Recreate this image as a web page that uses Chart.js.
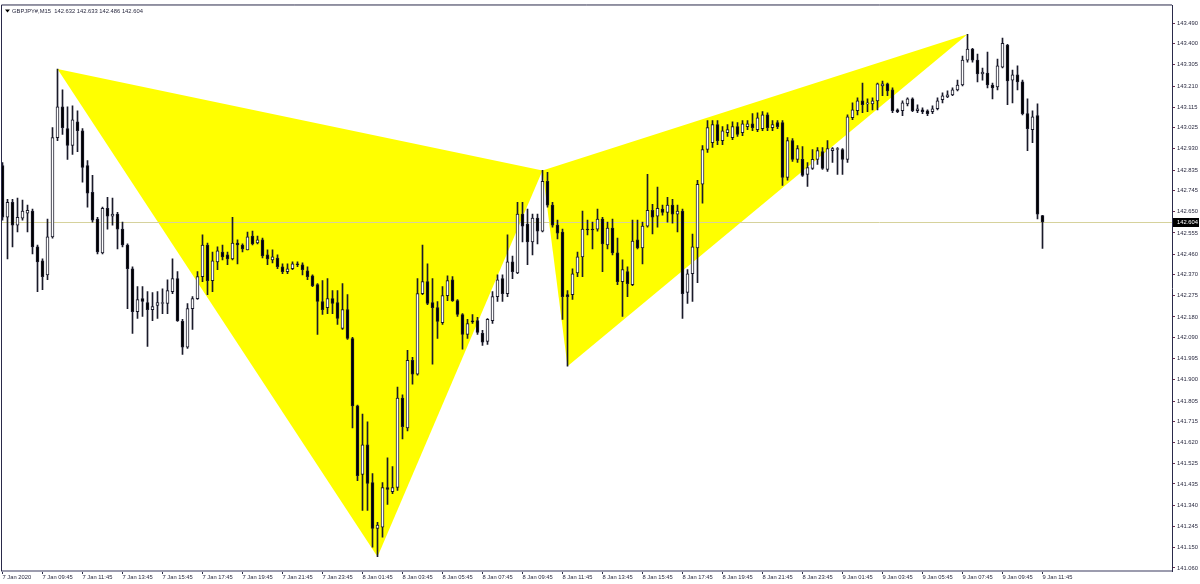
<!DOCTYPE html>
<html>
<head>
<meta charset="utf-8">
<title>GBPJPY#,M15</title>
<script src="https://cdn.jsdelivr.net/npm/chart.js@4.4.1/dist/chart.umd.min.js"></script>
<style>
  html, body { margin: 0; padding: 0; background: #fff; }
  #wrap { width: 1200px; height: 584px; }
</style>
</head>
<body>
<div id="wrap"><canvas id="chart" width="1200" height="584"></canvas></div>
<script>
// M15 свечи GBPJPY#, 7 Jan 07:45 .. 9 Jan 11:45 (209 баров)
const symbolTitle = "GBPJPY#,M15";

const opens = [
  142.856,142.625,142.692,142.590,142.621,142.643,142.652,142.493,142.430,142.368,
  142.537,142.980,143.118,143.020,142.945,143.051,143.011,142.856,142.736,142.617,
  142.466,142.665,142.630,142.639,142.572,142.501,142.395,142.204,142.262,142.244,
  142.213,142.231,142.240,142.240,142.293,142.351,142.160,142.045,142.217,142.262,
  142.360,142.501,142.342,142.426,142.470,142.457,142.439,142.510,142.501,142.479,
  142.541,142.510,142.524,142.457,142.435,142.443,142.404,142.382,142.395,142.417,
  142.413,142.386,142.364,142.324,142.249,142.222,142.262,142.244,142.129,142.213,
  142.084,141.783,141.477,141.610,141.441,141.237,141.242,141.419,141.401,141.419,
  141.818,141.685,141.987,141.925,142.284,142.338,142.244,142.222,142.155,142.275,
  142.346,142.253,142.191,142.102,142.160,142.164,142.107,142.071,142.164,142.271,
  142.351,142.284,142.426,142.377,142.639,142.594,142.515,142.621,142.563,142.785,
  142.679,142.590,142.559,142.280,142.280,142.377,142.448,142.572,142.572,142.572,
  142.617,142.501,142.577,142.466,142.338,142.382,142.324,142.524,142.488,142.585,
  142.656,142.630,142.661,142.647,142.679,142.639,142.652,142.289,142.373,142.488,
  142.772,142.927,142.958,143.038,142.967,143.002,142.980,143.029,143.002,143.029,
  143.042,143.016,143.020,143.082,143.025,143.047,143.047,142.803,142.967,142.883,
  142.883,142.816,142.843,142.883,142.918,142.838,142.922,142.927,142.927,142.883,
  143.069,143.100,143.144,143.131,143.131,143.144,143.211,143.220,143.193,143.104,
  143.100,143.131,143.153,143.100,143.104,143.100,143.096,143.109,143.149,143.162,
  143.171,143.193,143.215,143.326,143.375,143.326,143.264,143.268,143.215,143.206,
  143.295,143.393,143.237,143.260,143.229,143.087,143.016,143.078,142.632
];
const highs = [
  142.869,142.705,142.705,142.710,142.701,142.679,142.661,142.501,142.439,142.617,
  143.025,143.286,143.193,143.118,143.122,143.100,143.020,142.878,142.812,142.625,
  142.670,142.714,142.710,142.647,142.603,142.506,142.404,142.315,142.315,142.293,
  142.289,142.293,142.306,142.346,142.439,142.382,142.169,142.240,142.271,142.382,
  142.546,142.510,142.470,142.493,142.501,142.470,142.625,142.524,142.506,142.559,
  142.563,142.541,142.532,142.479,142.479,142.457,142.417,142.417,142.426,142.426,
  142.421,142.404,142.368,142.329,142.342,142.351,142.298,142.298,142.329,142.280,
  142.089,141.787,141.747,141.712,141.481,141.264,141.441,141.552,141.512,141.867,
  141.832,142.031,142.000,142.351,142.501,142.417,142.351,142.249,142.315,142.364,
  142.360,142.258,142.195,142.169,142.191,142.178,142.120,142.173,142.293,142.368,
  142.368,142.546,142.452,142.692,142.692,142.661,142.639,142.639,142.834,142.825,
  142.692,142.612,142.572,142.298,142.395,142.470,142.652,142.612,142.603,142.661,
  142.625,142.603,142.617,142.532,142.435,142.404,142.612,142.612,142.603,142.816,
  142.683,142.759,142.679,142.714,142.705,142.679,142.661,142.391,142.550,142.790,
  142.945,143.056,143.056,143.056,143.029,143.038,143.051,143.047,143.056,143.056,
  143.087,143.091,143.096,143.091,143.056,143.056,143.056,142.980,142.976,142.945,
  142.940,142.869,142.927,142.936,142.936,142.967,142.936,142.936,142.931,143.082,
  143.135,143.158,143.224,143.153,143.158,143.224,143.233,143.224,143.202,143.109,
  143.144,143.158,143.158,143.127,143.113,143.104,143.122,143.158,143.180,143.189,
  143.202,143.237,143.344,143.441,143.379,143.353,143.291,143.362,143.224,143.331,
  143.424,143.397,143.282,143.300,143.237,143.153,143.100,143.131,142.633
];
const lows = [
  142.612,142.439,142.493,142.559,142.612,142.559,142.461,142.293,142.302,142.346,
  142.532,142.967,142.994,142.883,142.905,142.918,142.781,142.670,142.603,142.461,
  142.461,142.572,142.590,142.484,142.493,142.217,142.107,142.173,142.182,142.049,
  142.164,142.173,142.195,142.195,142.284,142.160,142.013,142.040,142.124,142.258,
  142.338,142.280,142.293,142.391,142.435,142.413,142.435,142.417,142.470,142.479,
  142.501,142.506,142.443,142.413,142.421,142.395,142.373,142.373,142.391,142.404,
  142.368,142.346,142.315,142.102,142.191,142.195,142.195,142.147,142.124,142.080,
  141.685,141.450,141.317,141.317,141.153,141.110,141.197,141.344,141.392,141.406,
  141.636,141.672,141.880,141.920,142.280,142.235,141.969,142.084,142.147,142.253,
  142.249,142.182,142.036,142.084,142.151,142.102,142.053,142.058,142.151,142.249,
  142.249,142.271,142.351,142.373,142.515,142.413,142.457,142.506,142.559,142.670,
  142.581,142.528,142.169,141.960,142.258,142.360,142.360,142.546,142.484,142.563,
  142.382,142.484,142.457,142.324,142.182,142.271,142.320,142.484,142.417,142.581,
  142.550,142.581,142.634,142.603,142.599,142.559,142.173,142.240,142.249,142.333,
  142.688,142.914,142.936,142.949,142.949,142.985,142.971,142.985,142.989,143.016,
  143.011,143.007,143.011,143.011,143.011,143.020,142.767,142.790,142.874,142.869,
  142.807,142.763,142.838,142.861,142.838,142.829,142.869,142.816,142.816,142.869,
  143.060,143.082,143.091,143.096,143.104,143.104,143.167,143.167,143.091,143.091,
  143.078,143.122,143.096,143.091,143.087,143.078,143.087,143.104,143.135,143.158,
  143.167,143.189,143.211,143.317,143.317,143.229,143.237,143.202,143.153,143.193,
  143.291,143.127,143.135,143.193,143.082,142.922,142.958,142.617,142.486
];
const closes = [
  142.625,142.692,142.590,142.625,142.652,142.656,142.493,142.426,142.360,142.537,
  142.980,143.118,143.025,142.945,143.060,143.011,142.847,142.732,142.612,142.470,
  142.665,142.630,142.639,142.572,142.501,142.395,142.204,142.258,142.249,142.213,
  142.226,142.244,142.244,142.298,142.351,142.164,142.045,142.217,142.262,142.360,
  142.501,142.342,142.430,142.475,142.448,142.439,142.510,142.501,142.484,142.537,
  142.506,142.524,142.452,142.439,142.448,142.404,142.382,142.395,142.417,142.413,
  142.391,142.360,142.320,142.249,142.213,142.262,142.240,142.173,142.213,142.084,
  141.783,141.472,141.610,141.437,141.237,141.251,141.419,141.410,141.419,141.818,
  141.690,141.987,141.925,142.284,142.338,142.240,142.222,142.160,142.275,142.342,
  142.253,142.191,142.102,142.151,142.158,142.111,142.067,142.169,142.271,142.346,
  142.284,142.426,142.382,142.639,142.585,142.515,142.621,142.563,142.785,142.679,
  142.590,142.554,142.271,142.271,142.373,142.448,142.572,142.568,142.568,142.617,
  142.506,142.577,142.466,142.338,142.391,142.329,142.519,142.488,142.585,142.656,
  142.625,142.665,142.647,142.679,142.639,142.652,142.284,142.373,142.493,142.772,
  142.927,143.025,143.038,142.967,143.011,143.016,143.029,142.994,143.042,143.042,
  143.025,143.069,143.082,143.025,143.038,143.029,142.803,142.967,142.883,142.931,
  142.812,142.847,142.883,142.922,142.843,142.931,142.931,142.931,142.883,143.073,
  143.104,143.144,143.127,143.135,143.144,143.220,143.220,143.189,143.100,143.096,
  143.135,143.153,143.100,143.109,143.096,143.087,143.109,143.144,143.167,143.171,
  143.193,143.215,143.326,143.375,143.326,143.264,143.273,143.215,143.202,143.300,
  143.401,143.233,143.260,143.229,143.087,143.020,143.073,142.639,142.604
];

// подписи оси времени: каждые 8 баров (2 часа)
const xTickBars = [0,8,16,24,32,40,48,56,64,72,80,88,96,104,112,120,128,136,144,152,160,168,176,184,192,200,208];
const xTickLabels = [
  "7 Jan 2020","7 Jan 09:45","7 Jan 11:45","7 Jan 13:45","7 Jan 15:45","7 Jan 17:45","7 Jan 19:45",
  "7 Jan 21:45","7 Jan 23:45","8 Jan 01:45","8 Jan 03:45","8 Jan 05:45","8 Jan 07:45","8 Jan 09:45",
  "8 Jan 11:45","8 Jan 13:45","8 Jan 15:45","8 Jan 17:45","8 Jan 19:45","8 Jan 21:45","8 Jan 23:45",
  "9 Jan 01:45","9 Jan 03:45","9 Jan 05:45","9 Jan 07:45","9 Jan 09:45","9 Jan 11:45"
];
// ценовая шкала как в терминале
const yTickValues = [
  143.490,143.400,143.305,143.210,143.115,143.025,142.930,142.835,142.745,142.650,142.555,142.460,142.370,
  142.275,142.180,142.090,141.995,141.900,141.805,141.715,141.620,141.525,141.435,141.340,141.245,141.150,141.060
];

// паттерн XABCD (бар, цена)
const patternBars = [11, 75, 108, 113, 193];
const patternPrices = [143.286, 141.110, 142.834, 141.960, 143.441];
const patternTriangles = [[0, 1, 2], [2, 3, 4]];

const font = { family: "'Liberation Sans', Arial, sans-serif", size: 5.8 };
const textColor = "#2a2a40";

// свечи: тени + тела
const wickData = lows.map((l, i) => ({ x: i, y: [l, highs[i]] }));
const bodyData = opens.map((o, i) => ({ x: i, y: [o, closes[i]] }));
const bodyFill = opens.map((o, i) => closes[i] >= o ? "#ffffff" : "#000000");

const overlay = {
  id: "overlay",
  beforeDatasetsDraw(chart) {
    const { ctx, chartArea: a, scales: { x, y } } = chart;
    ctx.save();
    ctx.beginPath();
    ctx.rect(a.left, a.top, a.width, a.height);
    ctx.clip();
    // жёлтые треугольники
    ctx.fillStyle = "#ffff00";
    patternTriangles.forEach(tri => {
      ctx.beginPath();
      tri.forEach((k, n) => {
        const px = x.getPixelForValue(patternBars[k]);
        const py = y.getPixelForValue(patternPrices[k]);
        if (n) ctx.lineTo(px, py); else ctx.moveTo(px, py);
      });
      ctx.closePath();
      ctx.fill();
    });
    // линия bid
    const ly = Math.round(y.getPixelForValue(closes[closes.length - 1])) + 0.5;
    ctx.strokeStyle = "#d6d29c";
    ctx.lineWidth = 1;
    ctx.beginPath();
    ctx.moveTo(a.left, ly);
    ctx.lineTo(a.right, ly);
    ctx.stroke();
    ctx.restore();
  },
  afterDraw(chart) {
    const { ctx, chartArea: a, scales: { y } } = chart;
    ctx.save();
    // рамка
    ctx.strokeStyle = "#2a2a4a";
    ctx.lineWidth = 1;
    ctx.beginPath();
    ctx.moveTo(a.left - 0.5, a.bottom);
    ctx.lineTo(a.left - 0.5, a.top - 0.5);
    ctx.lineTo(a.right, a.top - 0.5);
    ctx.stroke();

    // метка текущей цены
    const last = closes[closes.length - 1];
    const ly = Math.round(y.getPixelForValue(last)) + 0.5;
    ctx.fillStyle = "#000";
    ctx.fillRect(a.right + 1, ly - 4.5, 26, 9);
    ctx.fillStyle = "#fff";
    ctx.font = `${font.size}px ${font.family}`;
    ctx.textBaseline = "middle";
    ctx.textAlign = "left";
    ctx.fillText(last.toFixed(3), a.right + 5, ly);

    // заголовок
    ctx.fillStyle = "#000";
    ctx.beginPath();
    ctx.moveTo(a.left + 3, a.top + 4);
    ctx.lineTo(a.left + 8, a.top + 4);
    ctx.lineTo(a.left + 5.5, a.top + 7);
    ctx.closePath();
    ctx.fill();
    ctx.fillStyle = textColor;
    const n = closes.length - 1;
    const t = `${symbolTitle}  ${opens[n].toFixed(3)} ${highs[n].toFixed(3)} ${lows[n].toFixed(3)} ${closes[n].toFixed(3)}`;
    ctx.fillText(t, a.left + 10, a.top + 5.5);
    ctx.restore();
  }
};

new Chart(document.getElementById("chart"), {
  type: "bar",
  data: {
    datasets: [
      {
        label: "body",
        data: bodyData,
        order: 0,
        grouped: false,
        barThickness: 3,
        minBarLength: 1,
        backgroundColor: bodyFill,
        borderColor: "#1a1a2a",
        borderWidth: 1,
        borderSkipped: false
      },
      {
        label: "wick",
        data: wickData,
        order: 1,
        grouped: false,
        barThickness: 1,
        backgroundColor: "#1a1a2a",
        borderWidth: 0
      }
    ]
  },
  options: {
    responsive: false,
    animation: false,
    devicePixelRatio: 1,
    layout: { padding: { top: 2, left: 2, right: 0, bottom: 0 } },
    plugins: { legend: { display: false }, tooltip: { enabled: false } },
    scales: {
      x: {
        type: "linear",
        min: -0.1,
        max: 233.9,
        offset: false,
        afterBuildTicks: s => { s.ticks = xTickBars.map(v => ({ value: v })); },
        afterFit: s => { s.height = 13; },
        grid: { offset: false, drawOnChartArea: false, drawTicks: true, tickLength: 3, color: "#2a2a4a" },
        border: { display: true, color: "#9c9cae", width: 2 },
        ticks: {
          autoSkip: false,
          maxRotation: 0,
          align: "start",
          padding: 0,
          font: font,
          color: textColor,
          callback: v => xTickLabels[xTickBars.indexOf(v)]
        }
      },
      y: {
        position: "right",
        min: 141.0465,
        max: 143.5698,
        afterBuildTicks: s => { s.ticks = yTickValues.map(v => ({ value: v })); },
        afterFit: s => { s.width = 28; },
        grid: { drawOnChartArea: false, drawTicks: true, tickLength: 3, color: "#6a3050" },
        border: { display: true, color: "#2a2a4a", width: 1 },
        ticks: {
          padding: 2,
          font: font,
          color: textColor,
          callback: v => Number(v).toFixed(3)
        }
      }
    }
  },
  plugins: [overlay]
});
</script>
</body>
</html>
